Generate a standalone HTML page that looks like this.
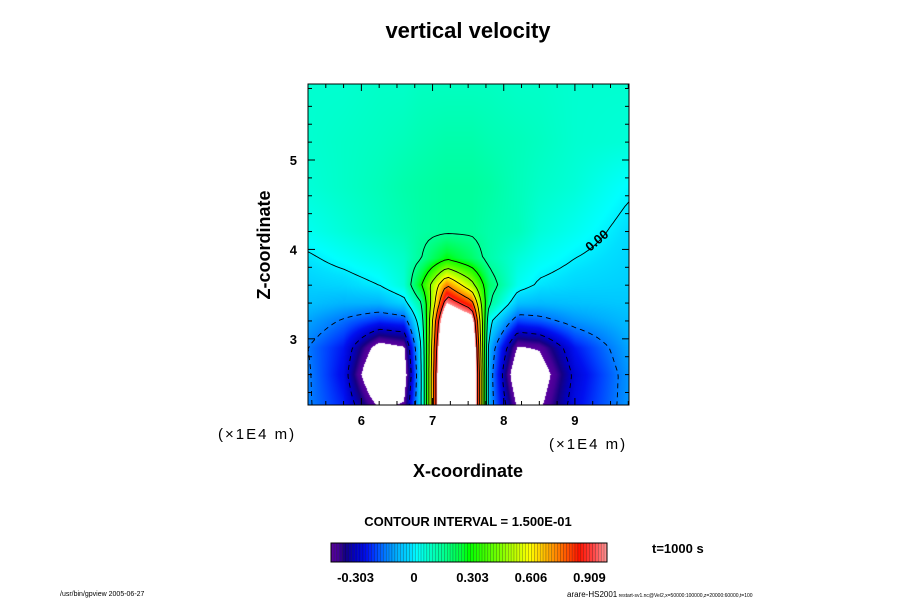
<!DOCTYPE html>
<html><head><meta charset="utf-8"><style>
body{margin:0;background:#fff;width:900px;height:600px;overflow:hidden;position:relative;font-family:"Liberation Sans",sans-serif}
#fill{position:absolute;left:308px;top:84px}
#ov{position:absolute;left:0;top:0}
</style></head><body>
<canvas id="fill" width="321" height="321"></canvas>
<svg id="ov" width="900" height="600">
<g id="contours"></g>
<rect x="308" y="84" width="321" height="321" fill="none" stroke="#000" stroke-width="1"/>
<g id="ticks"></g>
<text x="468" y="38" font-size="22" font-weight="bold" text-anchor="middle">vertical velocity</text>
<text transform="translate(270,245) rotate(-90)" font-size="18" font-weight="bold" text-anchor="middle">Z-coordinate</text>
<text x="468" y="477" font-size="18" font-weight="bold" text-anchor="middle">X-coordinate</text>
<text x="218" y="439" font-size="15" letter-spacing="2">(×1E4 m)</text>
<text x="549" y="449" font-size="15" letter-spacing="2">(×1E4 m)</text>
<text x="590" y="252" font-size="13" font-weight="bold" transform="rotate(-40 590 252)">0.00</text>
<text x="468" y="526" font-size="13" font-weight="bold" text-anchor="middle">CONTOUR INTERVAL = 1.500E-01</text>
<g id="cbar"></g>
<text x="652" y="553" font-size="13" font-weight="bold">t=1000 s</text>
<text x="60" y="596" font-size="7">/usr/bin/gpview 2005-06-27</text>
<text x="567" y="597" font-size="8">arare-HS2001<tspan font-size="5"> restart-sv1.nc@Vel2,x=50000:100000,z=20000:60000,t=100</tspan></text>
</svg>
<script>
const xCols=[5.25,5.75,6.25,6.6,6.85,7.2,7.55,7.8,8.2,8.5,9.0,9.75];
const zRows=[2.26,2.6,2.9,3.2,3.4,3.6,3.9,4.2,4.7,5.2,5.85];
const field=[
[-0.14,-0.23,-0.45,-0.42,0.0,1.6,1.4,-0.1,-0.45,-0.45,-0.26,-0.12],
[-0.14,-0.26,-0.6,-0.5,0.0,1.6,1.4,-0.1,-0.55,-0.5,-0.28,-0.12],
[-0.15,-0.24,-0.48,-0.44,0.02,1.5,1.3,-0.08,-0.44,-0.42,-0.24,-0.1],
[-0.1,-0.16,-0.22,-0.2,0.08,1.3,1.1,0.02,-0.2,-0.18,-0.12,-0.07],
[-0.06,-0.08,-0.08,-0.03,0.15,1.0,0.8,0.15,-0.06,-0.07,-0.06,-0.05],
[-0.04,-0.03,0.0,0.06,0.3,0.75,0.5,0.2,0.03,-0.01,-0.03,-0.04],
[-0.01,0.02,0.05,0.08,0.15,0.28,0.2,0.12,0.06,0.03,0.0,-0.03],
[0.03,0.06,0.09,0.11,0.13,0.14,0.14,0.12,0.1,0.06,0.03,-0.02],
[0.06,0.08,0.1,0.12,0.13,0.14,0.14,0.13,0.1,0.08,0.06,0.01],
[0.07,0.08,0.09,0.1,0.11,0.12,0.12,0.11,0.1,0.09,0.07,0.06],
[0.07,0.07,0.08,0.08,0.09,0.09,0.09,0.09,0.08,0.08,0.07,0.07]];
const levels=[-0.3,-0.15,0,0.15,0.3,0.45,0.6,0.75,0.9];
const xTicks=[6,7,8,9], zTicks=[3,4,5];
const cbLabels=[-0.303,0,0.303,0.606,0.909];
const X0=308,X1=629,Y0=84,Y1=405,xmin=5.25,xmax=9.76,zmin=2.26,zmax=5.85;
const sx=x=>X0+(x-xmin)/(xmax-xmin)*(X1-X0);
const sz=z=>Y1-(z-zmin)/(zmax-zmin)*(Y1-Y0);
const VMIN=-0.43,VMAX=1.0;
const stops=[[0,[90,0,160]],[0.025,[70,0,150]],[0.05,[20,0,130]],[0.09,[0,0,200]],[0.13,[0,16,240]],[0.16,[0,64,255]],[0.2,[0,128,255]],[0.24,[0,176,255]],[0.29,[0,224,255]],[0.31,[0,255,255]],[0.35,[0,255,208]],[0.41,[0,255,144]],[0.47,[0,255,64]],[0.5,[0,255,0]],[0.6,[110,255,0]],[0.72,[255,255,0]],[0.82,[255,130,0]],[0.9,[255,20,0]],[0.95,[255,70,70]],[1,[255,150,150]]];
function cmap(v){let t=(v-VMIN)/(VMAX-VMIN);t=Math.max(0,Math.min(1,t));
for(let i=0;i<stops.length-1;i++){const a=stops[i],b=stops[i+1];if(t<=b[0]){const f=(t-a[0])/(b[0]-a[0]);return a[1].map((c,k)=>Math.round(c+(b[1][k]-c)*f));}}return stops[stops.length-1][1];}
function seg(arr,v){let i=0;while(i<arr.length-2&&v>arr[i+1])i++;let f=(v-arr[i])/(arr[i+1]-arr[i]);return [i,Math.max(0,Math.min(1,f))];}
function val(x,z){const [i,fx]=seg(xCols,x),[j,fz]=seg(zRows,z);
const a=field[j][i],b=field[j][i+1],c=field[j+1][i],d=field[j+1][i+1];
return (a*(1-fx)+b*fx)*(1-fz)+(c*(1-fx)+d*fx)*fz;}
const cv=document.getElementById('fill'),ctx=cv.getContext('2d'),img=ctx.createImageData(321,321);
for(let py=0;py<321;py++)for(let px=0;px<321;px++){
const x=xmin+(px+0.5)/321*(xmax-xmin),z=zmax-(py+0.5)/321*(zmax-zmin);const v=val(x,z);
let c=(v>VMAX||v<VMIN)?[255,255,255]:cmap(v);const k=(py*321+px)*4;img.data[k]=c[0];img.data[k+1]=c[1];img.data[k+2]=c[2];img.data[k+3]=255;}
ctx.putImageData(img,0,0);
const NS='http://www.w3.org/2000/svg';
const cg=document.getElementById('contours');
const N=80;
function key(p){return p[0].toFixed(2)+','+p[1].toFixed(2);}
for(const L of levels){
const segs=[];
for(let j=0;j<N;j++)for(let i=0;i<N;i++){
const xa=xmin+i/N*(xmax-xmin),xb=xmin+(i+1)/N*(xmax-xmin),za=zmin+j/N*(zmax-zmin),zb=zmin+(j+1)/N*(zmax-zmin);
const p=[[xa,za],[xb,za],[xb,zb],[xa,zb]].map(q=>[q[0],q[1],val(q[0],q[1])-L]);
const pts=[];for(let e=0;e<4;e++){const A=p[e],B=p[(e+1)%4];if((A[2]<0)!==(B[2]<0)){const f=A[2]/(A[2]-B[2]);pts.push([sx(A[0]+(B[0]-A[0])*f),sz(A[1]+(B[1]-A[1])*f)]);}}
for(let k=0;k+1<pts.length;k+=2)segs.push([pts[k],pts[k+1]]);}
const adj={};segs.forEach((s,idx)=>{[0,1].forEach(e=>{const k=key(s[e]);(adj[k]=adj[k]||[]).push(idx);});});
const used=new Array(segs.length).fill(false);let d='';
for(let s0=0;s0<segs.length;s0++){if(used[s0])continue;used[s0]=true;
let line=[segs[s0][0],segs[s0][1]];
for(const dir of [1,0]){let cur=dir?line[line.length-1]:line[0];
while(true){const cand=(adj[key(cur)]||[]).find(q=>!used[q]);if(cand===undefined)break;used[cand]=true;
const s=segs[cand];const nxt=key(s[0])===key(cur)?s[1]:s[0];if(dir)line.push(nxt);else line.unshift(nxt);cur=nxt;}}
d+='M'+line.map(p=>p[0].toFixed(1)+' '+p[1].toFixed(1)).join('L');}
const path=document.createElementNS(NS,'path');path.setAttribute('d',d);path.setAttribute('fill','none');path.setAttribute('stroke','#000');path.setAttribute('stroke-width','0.9');
if(L<0)path.setAttribute('stroke-dasharray','5 4');


cg.appendChild(path);}
const tg=document.getElementById('ticks');
function line(x1,y1,x2,y2){const l=document.createElementNS(NS,'line');l.setAttribute('x1',x1);l.setAttribute('y1',y1);l.setAttribute('x2',x2);l.setAttribute('y2',y2);l.setAttribute('stroke','#000');l.setAttribute('stroke-width','1');


tg.appendChild(l);}
function txt(x,y,s,anchor,size){const t=document.createElementNS(NS,'text');t.setAttribute('x',x);t.setAttribute('y',y);t.setAttribute('font-size',size||13);t.setAttribute('font-weight','bold');t.setAttribute('text-anchor',anchor||'middle');t.textContent=s;


tg.appendChild(t);return t;}
for(let x=5.25;x<=9.76;x+=0.25){const X=sx(x),maj=Math.abs(x-Math.round(x))<1e-6,l=maj?7:4;line(X,Y1,X,Y1-l);line(X,Y0,X,Y0+l);}
for(let z=2.4;z<=5.85;z+=0.2){const Y=sz(z),maj=Math.abs(z-Math.round(z))<1e-6,l=maj?7:4;line(X0,Y,X0+l,Y);line(X1,Y,X1-l,Y);}
xTicks.forEach(x=>txt(sx(x),425,String(x)));
zTicks.forEach(z=>txt(297,sz(z)+5,String(z),'end'));
const cb=document.getElementById('cbar');const CB0=331,CB1=607,nb=95;
for(let k=0;k<nb;k++){const v=VMIN+(k+0.5)/nb*(VMAX-VMIN),c=cmap(v);const r=document.createElementNS(NS,'rect');
r.setAttribute('x',CB0+k*(CB1-CB0)/nb);r.setAttribute('y',543);r.setAttribute('width',(CB1-CB0)/nb);r.setAttribute('height',19);
r.setAttribute('fill','rgb('+c.join(',')+')');r.setAttribute('stroke','rgba(0,0,0,0.45)');r.setAttribute('stroke-width','0.4');


cb.appendChild(r);}
const fr=document.createElementNS(NS,'rect');fr.setAttribute('x',CB0);fr.setAttribute('y',543);fr.setAttribute('width',CB1-CB0);fr.setAttribute('height',19);fr.setAttribute('fill','none');fr.setAttribute('stroke','#000');


cb.appendChild(fr);
cbLabels.forEach(v=>{const t=txt(CB0+(v-VMIN)/(VMAX-VMIN)*(CB1-CB0),582,v===0?'0':v.toFixed(3));
});
</script>
</body></html>
